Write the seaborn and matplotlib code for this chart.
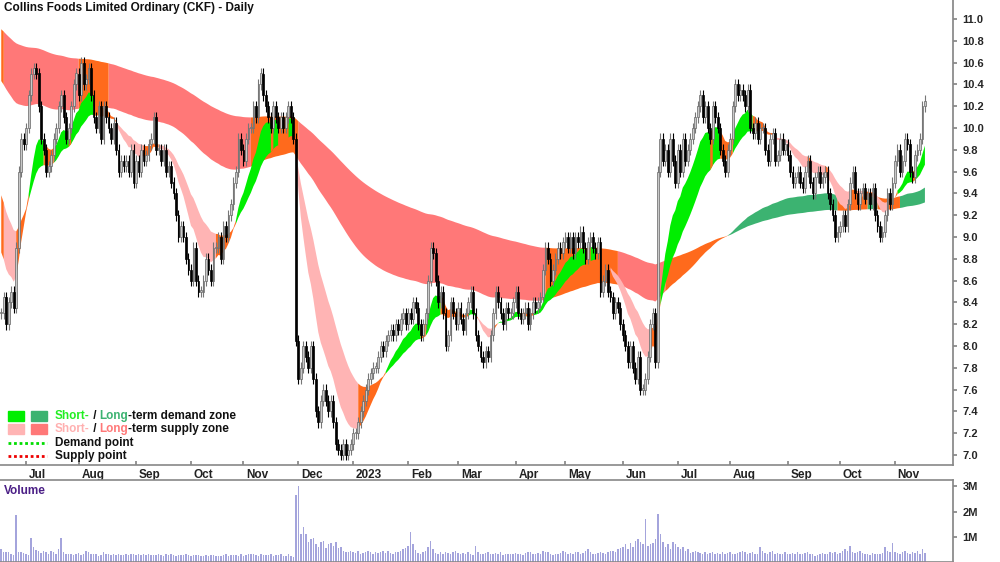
import numpy as np
import pandas as pd
import matplotlib
matplotlib.use("Agg")
import matplotlib.pyplot as plt
import seaborn as sns
from matplotlib.patches import Rectangle

sns.set_theme(style="white")
plt.rcParams['font.family'] = ['Liberation Sans', 'DejaVu Sans']

title = "Collins Foods Limited Ordinary (CKF) - Daily"
start_date = "2022-06-17"

closes = [
    8.3,8.45,8.2,8.4,8.5,8.35,
    8.9,9.6,9.9,9.85,10.0,10.3,10.5,10.55,10.5,
    10.2,9.9,9.8,9.6,
    9.65,9.75,9.9,10.0,10.2,
    10.3,10.1,9.9,10.0,
    10.2,10.4,10.5,10.3,10.6,10.4,10.45,10.55,10.3,
    10.1,10.0,10.2,9.9,10.2,10.1,10.0,9.9,10.05,
    9.8,9.6,9.7,9.65,
    9.7,9.6,9.8,9.5,9.7,9.6,9.8,9.7,9.75,9.85,9.9,10.1,9.8,
    9.8,9.7,9.8,9.6,9.65,9.5,9.4,
    9.2,9.0,9.1,9.0,
    8.8,8.7,8.6,8.9,8.6,8.5,
    8.5,8.6,8.8,8.7,8.6,8.9,
    8.9,9.0,8.8,9.1,9.0,9.2,
    9.3,9.5,9.6,9.9,9.8,9.7,9.9,10.0,
    10.0,10.2,10.1,10.4,10.5,10.3,
    10.2,10.1,10.0,10.2,10.1,10.0,10.1,10.0,10.1,10.2,10.1,9.9,
    8.05,
    7.7,7.8,8.0,7.9,7.8,8.0,7.7,
    7.4,7.3,7.5,7.6,7.5,7.4,7.5,7.3,
    7.1,7.05,7.0,7.1,7.0,7.05,7.1,7.2,
    7.2,7.3,7.4,7.5,7.6,7.7,7.75,7.8,
    7.8,7.9,8.0,7.95,8.05,8.1,8.15,8.1,8.2,8.15,8.25,8.3,8.2,8.3,8.25,
    8.4,8.35,8.2,8.1,8.2,8.3,
    8.6,8.9,8.85,8.6,8.4,8.5,
    8.3,8.0,8.1,8.4,8.3,8.2,8.35,8.25,8.15,8.3,8.4,8.5,8.3,
    8.1,8.0,7.9,7.85,7.95,7.9,
    8.1,8.3,8.5,8.4,8.3,8.2,8.35,8.3,
    8.3,8.4,8.5,8.3,8.25,8.3,8.35,8.2,8.3,8.4,8.35,8.4,8.45,
    8.7,8.9,8.8,8.6,8.7,8.8,8.9,8.85,8.95,9.0,8.9,9.0,8.85,9.0,8.95,9.05,8.9,8.8,8.95,9.0,8.9,8.85,8.95,
    8.5,8.6,8.7,8.5,8.45,8.3,8.4,8.35,
    8.2,8.1,8.0,7.85,8.0,7.8,7.7,7.9,7.6,
    7.6,7.7,7.9,8.2,8.3,7.85,
    9.6,
    9.9,9.7,9.8,9.6,9.9,9.7,9.5,9.8,9.6,9.9,9.7,
    9.8,9.9,10.0,10.1,10.2,10.3,10.1,10.2,10.0,9.9,10.2,10.1,10.0,9.8,
    9.7,9.6,9.8,9.9,
    10.2,10.4,10.3,10.35,10.3,10.2,10.35,
    10.0,9.95,10.05,9.9,10.0,10.0,
    9.8,9.7,9.9,9.95,9.7,9.75,9.9,9.8,9.85,9.75,
    9.6,9.5,9.55,9.6,9.5,9.45,9.6,9.7,9.5,9.4,9.55,9.6,9.5,9.55,9.6,9.4,9.3,9.2,
    9.0,9.05,9.1,9.2,9.1,9.3,
    9.5,9.6,9.4,9.3,9.4,9.45,9.35,9.4,9.3,9.45,
    9.2,9.1,9.0,9.05,9.2,9.4,9.3,
    9.5,9.7,9.8,9.6,9.7,9.9,9.85,9.6,9.55,9.75,9.8,9.9,
    10.2,10.25,
]
volumes_k = [
    500,380,380,380,330,280,
    1870,380,380,350,310,280,950,600,470,
    450,350,420,380,
    300,450,380,330,500,
    950,380,320,300,
    310,280,300,350,280,300,450,380,320,
    300,310,250,280,380,300,320,280,310,
    290,300,260,280,
    310,280,300,320,280,300,270,310,290,300,280,260,270,
    300,280,250,330,280,300,280,
    250,270,290,260,
    300,280,250,260,290,270,
    230,250,280,240,270,260,
    230,250,240,260,300,230,
    260,290,280,240,310,250,270,300,
    330,300,280,250,310,260,
    290,270,300,240,260,280,310,250,240,300,220,200,
    2650,
    3000,1100,1400,1100,800,900,950,
    700,600,800,850,550,700,750,650,
    780,560,580,450,400,400,420,380,
    350,420,300,350,400,450,380,330,
    380,350,400,420,360,450,350,330,380,400,420,500,550,650,1200,
    700,480,350,300,380,420,
    600,850,500,350,300,380,
    320,400,350,300,380,420,350,300,360,320,380,300,280,
    650,400,320,300,350,380,
    330,300,350,320,380,280,300,320,
    300,320,350,330,310,290,350,400,380,300,330,350,320,
    450,400,380,300,280,320,300,350,420,380,300,350,320,400,380,300,350,450,500,380,330,300,350,
    400,350,300,380,420,450,380,500,
    550,600,700,500,750,600,850,900,800,
    700,1700,650,700,750,900,
    1900,
    1100,800,600,700,500,800,700,600,500,600,450,
    500,350,400,450,380,350,300,400,320,350,400,300,350,320,
    380,300,350,400,
    330,300,350,400,450,380,300,
    350,400,320,300,600,450,
    350,300,380,420,300,350,320,330,380,300,
    300,350,320,400,330,300,350,380,320,300,250,280,300,350,300,320,400,350,
    380,300,350,420,500,450,
    650,400,350,380,420,350,320,300,280,350,
    330,300,320,350,600,450,380,
    750,400,350,300,380,420,350,330,380,350,420,300,
    500,350,
]
# seed values of the zones at the first bar
short_seed = [8.96, 9.47]   # fast, slow
long_seed = [10.47, 10.93]
short_spans = [12, 26]
long_spans = [110, 220]
price_ticks = [7.0,7.2,7.4,7.6,7.8,8.0,8.2,8.4,8.6,8.8,9.0,9.2,9.4,9.6,9.8,10.0,10.2,10.4,10.6,10.8,11.0]
vol_ticks = [1e6, 2e6, 3e6]
vol_labels = ["1M", "2M", "3M"]

n = min(len(closes), len(volumes_k))
c = np.array(closes[:n]); v = np.array(volumes_k[:n]) * 1000.0
dates = pd.bdate_range(start_date, periods=n)
idx = np.arange(n)
o = np.r_[c[0], c[:-1]]

def ema(x, span, seed):
    a = 2.0 / (span + 1)
    out = np.empty_like(x); e = seed
    for i, val in enumerate(x):
        e = e + a * (val - e); out[i] = e
    return out

GREEN, SEAG, PINK, SALM, ORNG = "#00ee00", "#3cb371", "#ffb4b4", "#ff7878", "#ff6a1c"

fig = plt.figure(figsize=(10, 5.62), dpi=100)
H = 562.0
ax = fig.add_axes([0, 1 - 465/H, 0.953, 465/H])
axv = fig.add_axes([0, 0, 0.953, 82/H])

def draw_band(fast, slow, dem, sup, lag):
    lo = np.minimum(fast, slow); hi = np.maximum(fast, slow)
    prev = np.r_[np.repeat(fast[0], lag), fast[:-lag]]
    rising = fast >= prev
    d = (fast > slow) & rising
    s = (fast <= slow) & ~rising
    m = ~(d | s)
    for mask, col in ((d, dem), (s, sup), (m, ORNG)):
        mm = mask.copy(); mm[1:] = mm[1:] | mask[:-1]
        ax.fill_between(idx, lo, hi, where=mm, color=col, lw=0, zorder=1)

lf = ema(c, long_spans[0], long_seed[0]); ls = ema(c, long_spans[1], long_seed[1])
sf = ema(c, short_spans[0], short_seed[0]); ss = ema(c, short_spans[1], short_seed[1])
draw_band(lf, ls, SEAG, SALM, 10)
draw_band(sf, ss, GREEN, PINK, 2)

wick = 0.05
up = c >= o
hi_ = np.maximum(o, c) + wick; lo_ = np.minimum(o, c) - wick
ax.vlines(idx[up], lo_[up], hi_[up], color="#777777", lw=0.8, zorder=2)
ax.vlines(idx[~up], lo_[~up], hi_[~up], color="#000000", lw=0.8, zorder=2)
body = np.maximum(np.abs(c - o), 0.012)
ax.bar(idx[up], body[up], bottom=np.minimum(o, c)[up], width=0.7, color="#c8c8c8", edgecolor="#666666", lw=0.5, zorder=3)
ax.bar(idx[~up], body[~up], bottom=np.minimum(o, c)[~up], width=0.7, color="#000000", edgecolor="#000000", lw=0.5, zorder=3)

xmax = n - 1 + (953 - 925) / 2.49
ax.set_xlim(-0.5, xmax)
ax.set_ylim(7.0 - 10/109.0, 11.0 + 19/109.0)

axv.bar(idx, v, width=0.6, color="#a4a4dc", lw=0)
axv.set_xlim(-0.5, xmax)
axv.set_ylim(0, 3e6 * 77 / 71.0)

for a in (ax, axv):
    a.yaxis.tick_right()
    a.spines["left"].set_visible(False)
    a.spines["right"].set_color("#888888"); a.spines["bottom"].set_color("#888888")
    a.spines["bottom"].set_linewidth(1.2)
    a.tick_params(axis="y", direction="out", length=3, color="#888888", labelsize=8, pad=4)
ax.spines["top"].set_visible(False)
axv.spines["top"].set_color("#888888"); axv.spines["top"].set_linewidth(1.2)
ax.set_yticks(price_ticks); ax.set_yticklabels([f"{t:.1f}" for t in price_ticks], fontweight="bold")
axv.set_yticks(vol_ticks); axv.set_yticklabels(vol_labels, fontweight="bold")
axv.set_xticks([]); axv.set_xlabel(""); axv.set_ylabel("")

# month ticks
ms = pd.date_range(dates[0], dates[-1], freq="MS")
mpos = [int(np.searchsorted(dates, m)) for m in ms]
mlab = [m.strftime("%Y") if m.month == 1 else m.strftime("%b") for m in ms]
ax.set_xticks(mpos); ax.set_xticklabels([])
ax.tick_params(axis="x", direction="in", length=3, color="#888888", bottom=True)
for p, l in zip(mpos, mlab):
    ax.annotate(l, (p, 0), xycoords=("data", "axes fraction"), xytext=(2, -3), textcoords="offset points",
                ha="left", va="top", fontsize=8.5, fontweight="bold", color="#222222", annotation_clip=False)

fig.text(4/1000, 1 - 8/H, title, fontsize=8.5, fontweight="bold", va="center", color="#111111")
fig.text(4/1000, 1 - 491/H, "Volume", fontsize=8.5, fontweight="bold", va="center", color="#4b1f86")

# legend
def px(x, y):
    return x/1000, 1 - y/H
rows = [(416, GREEN, SEAG), (429, PINK, SALM)]
for y, c1, c2 in rows:
    for x0, col in ((8, c1), (31, c2)):
        fig.patches.append(Rectangle(px(x0, y + 5), 16/1000, 10/H, transform=fig.transFigure, color=col))
for y, col in ((443, "#00dd00"), (456, "#ee0000")):
    fig.add_artist(plt.Line2D([8/1000, 47/1000], [1 - y/H]*2, transform=fig.transFigure, color=col, lw=2, ls=(0, (1, 1))))
fig.canvas.draw()
r = fig.canvas.get_renderer()
def chain(x, y, parts):
    for s, col in parts:
        t = fig.text(*px(x, y), s, fontsize=8.5, fontweight="bold", color=col, va="center")
        x += t.get_window_extent(r).width
chain(55, 416, [("Short-", "#22ee22"), (" / ", "#111111"), ("Long", SEAG), ("-term demand zone", "#111111")])
chain(55, 429, [("Short-", "#ffb0b0"), (" / ", "#111111"), ("Long", SALM), ("-term supply zone", "#111111")])
chain(55, 443, [("Demand point", "#111111")])
chain(55, 456, [("Supply point", "#111111")])

fig.savefig("out.png", dpi=100)
